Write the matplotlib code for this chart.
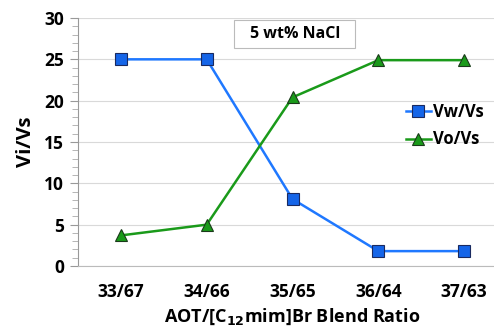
import matplotlib
matplotlib.use("Agg")
import matplotlib.pyplot as plt
from matplotlib.patches import Rectangle
from matplotlib.ticker import MultipleLocator

ratios = ["33/67", "34/66", "35/65", "36/64", "37/63"]
vw_vs = [25.0, 25.0, 8.1, 1.8, 1.8]
vo_vs = [3.7, 5.0, 20.4, 24.9, 24.9]

plt.rcParams['font.family'] = ['Open Sans', 'DejaVu Sans']
plt.rcParams['font.weight'] = 'bold'

fig = plt.figure(figsize=(4.94, 3.29), dpi=100)
ax = fig.add_axes([78 / 494, (329 - 266) / 329, (507 - 78) / 494, (266 - 18) / 329])

x = range(len(ratios))
ax.plot(x, vw_vs, '-s', color='#1f78ff', lw=1.8, ms=8.5, mfc='#1565e8', mec='#1a2a60', mew=0.8,
        label='Vw/Vs', zorder=3)
ax.plot(x, vo_vs, '-^', color='#1a9a1a', lw=1.8, ms=9, mfc='#1a9a1a', mec='#1a3a1a', mew=0.8,
        label='Vo/Vs', zorder=3)

ax.set_xlim(-0.5, 4.5)
ax.set_ylim(0, 30)
ax.set_xticks(list(x))
ax.set_xticklabels(ratios, fontsize=12.5, fontweight='bold')
ax.yaxis.set_major_locator(MultipleLocator(5))
ax.yaxis.set_minor_locator(MultipleLocator(1))
ax.tick_params(axis='y', which='major', length=6, color='#999999', labelsize=12.5, pad=4)
ax.tick_params(axis='y', which='minor', length=4, color='#aaaaaa')
ax.tick_params(axis='x', length=0, pad=12)
for lab in ax.get_yticklabels():
    lab.set_fontweight('bold')

ax.grid(axis='y', which='major', color='#d9d9d9', lw=0.8)
ax.set_axisbelow(True)
for s in ['top', 'right']:
    ax.spines[s].set_visible(False)
ax.spines['left'].set_color('#999999')
ax.spines['bottom'].set_color('#bbbbbb')

ax.set_ylabel('Vi/Vs', fontsize=14.5, fontweight='bold', labelpad=6)
ax.set_xlabel('AOT/[C$_{12}$mim]Br Blend Ratio', fontsize=13, fontweight='bold', labelpad=4)

ax.add_patch(Rectangle((0.364, 0.879), 0.282, 0.113, transform=ax.transAxes,
                       fc='white', ec='#bbbbbb', lw=0.8, zorder=4))
ax.text(0.505, 0.935, '5 wt% NaCl', transform=ax.transAxes, ha='center', va='center',
        fontsize=11.5, fontweight='bold', zorder=5)

leg = ax.legend(loc='upper left', bbox_to_anchor=(0.745, 0.69), frameon=False, fontsize=12,
                handlelength=1.5, handletextpad=0.1, labelspacing=0.55, borderpad=0)
for t in leg.get_texts():
    t.set_fontweight('bold')

fig.savefig('out.png', dpi=100)
